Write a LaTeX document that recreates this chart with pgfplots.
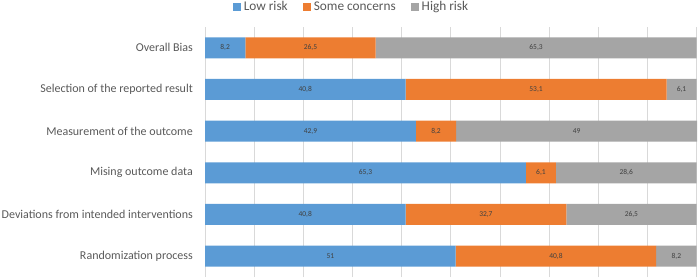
\documentclass[border=0pt]{standalone}
\usepackage{fontspec}
\setmainfont{Carlito}
\usepackage{pgfplots}
\pgfplotsset{compat=1.18}
\usepackage{pgfplotstable}
\definecolor{cblue}{HTML}{5B9BD5}
\definecolor{corange}{HTML}{ED7D31}
\definecolor{cgray}{HTML}{A5A5A5}
\definecolor{gridc}{HTML}{D9D9D9}
\definecolor{labc}{HTML}{595959}
\definecolor{valc}{HTML}{404040}
\pgfplotstableread{
y low some high
0 51 40.8 8.2
1 40.8 32.7 26.5
2 65.3 6.1 28.6
3 42.9 8.2 49
4 40.8 53.1 6.1
5 8.2 26.5 65.3
}\data
\begin{document}
\begin{tikzpicture}
\useasboundingbox (0,0) rectangle (700bp,278bp);
\begin{axis}[
 at={(205bp,1bp)}, anchor=south west,
 scale only axis, width=492bp, height=250bp,
 xbar stacked, bar width=21bp,
 xmin=0, xmax=100.1, ymin=-0.5, ymax=5.5,
 xtick={0,10,...,100}, xticklabels={},
 xmajorgrids, grid style={draw=gridc, line width=0.75bp},
 ytick={0,...,5},
 yticklabels={Randomization process, Deviations from intended interventions, Mising outcome data, Measurement of the outcome, Selection of the reported result, Overall Bias},
 axis line style={draw=none}, tick style={draw=none},
 yticklabel style={font=\fontsize{12bp}{14bp}\selectfont, text=labc, inner sep=0pt, xshift=-12bp},
 legend columns=3,
 legend style={at={(0.2988,1.08)}, anchor=center, draw=none, fill=none,
   font=\fontsize{13.3bp}{15bp}\selectfont, text=labc, inner sep=0pt,
   nodes={inner xsep=3bp, inner ysep=0pt},
   /tikz/every even column/.append style={column sep=12bp}},
 legend image code/.code={\fill[#1] (0bp,-4bp) rectangle (8bp,4bp);},
 point meta=explicit,
 /pgf/number format/assume math mode=true,
 nodes near coords={\pgfmathprintnumber[use comma,assume math mode=true]{\pgfplotspointmeta}},
 every node near coord/.append style={font=\fontsize{7.5bp}{9bp}\selectfont, text=valc, anchor=center},
]
\addplot[fill=cblue, draw=none] table[x=low,y=y,meta=low]{\data};
\addlegendentry{Low risk}
\addplot[fill=corange, draw=none] table[x=some,y=y,meta=some]{\data};
\addlegendentry{Some concerns}
\addplot[fill=cgray, draw=none] table[x=high,y=y,meta=high]{\data};
\addlegendentry{High risk}
\end{axis}
\end{tikzpicture}
\end{document}
